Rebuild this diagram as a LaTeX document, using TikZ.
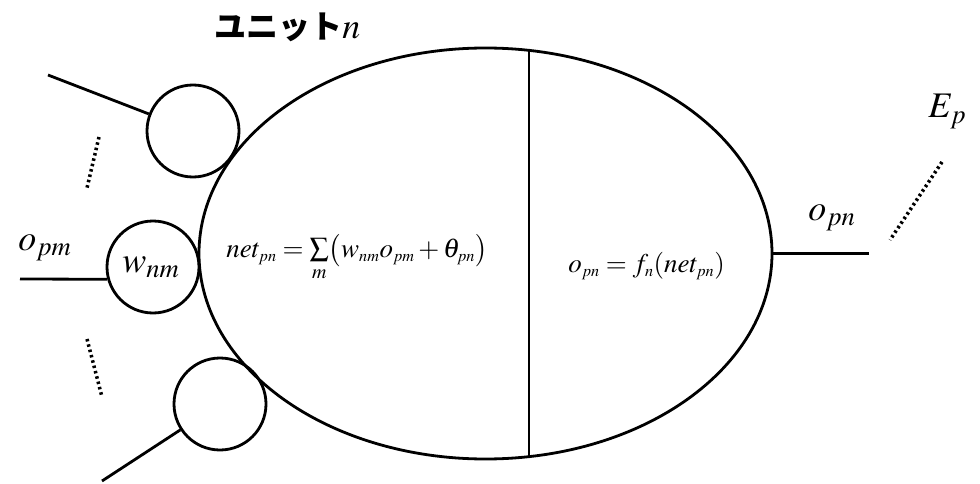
\documentclass[tikz,border=0pt]{standalone}
\usepackage{mathptmx}
\usepackage{fontspec}
\setmainfont{Liberation Serif}
\newfontfamily\jpfont{Noto Sans CJK JP}
\usetikzlibrary{shapes.geometric}
\begin{document}
\begin{tikzpicture}[x=1pt,y=-1pt,line width=2.8pt,
  unit/.style={circle,draw,minimum size=92pt,inner sep=0pt},
  body/.style={ellipse,draw,minimum width=573pt,minimum height=411pt,inner sep=0pt},
  dotline/.style={line width=3.5pt,dash pattern=on 2.5pt off 3pt},
  big/.style={inner sep=0pt,anchor=base west,font=\fontsize{36}{40}\selectfont},
  formula/.style={inner sep=0pt,anchor=base west,font=\fontsize{27}{30}\selectfont}]
\useasboundingbox (0,0) rectangle (980,484);

% main body
\node[body] (E) at (485.5,253.5) {};
\draw (E.78.2) -- (E.-78.2);

% weight circles
\node[unit] (c1) at (193,131) {};
\node[unit] (c2) at (153,267) {};
\node[unit] (c3) at (220,404) {};

% inputs
\coordinate (a1) at (48,75);
\coordinate (a2) at (20,279);
\coordinate (a3) at (102,481);
\draw (a1) -- (c1);
\draw (a2) -- (c2.195);
\draw (a3) -- (c3);

% output
\coordinate (out) at (869,255);
\draw (E.-0.4) -- (out |- E.-0.4);

% dotted marks
\coordinate (d1a) at (99,137); \coordinate (d1b) at (87,188);
\coordinate (d2a) at (87,339); \coordinate (d2b) at (102,397);
\coordinate (d3a) at (942,162); \coordinate (d3b) at (890,240);
\draw[dotline] (d1a) -- (d1b);
\draw[dotline] (d2a) -- (d2b);
\draw[dotline] (d3a) -- (d3b);

% labels
\node[inner sep=0pt,anchor=base west] (title) at (213,39)
  {{\jpfont\bfseries\fontsize{32}{38}\selectfont ユニット}{\fontsize{36}{40}\selectfont$n$}};
\node[big] (opm) at (17,250) {$o_{pm}$};
\node[big] (wnm) at (121,272) {$w_{nm}$};
\node[big] (opn) at (807,220) {$o_{pn}$};
\node[big] (Ep) at (927,118) {$E_p$};
\node[formula] (f1) at (225,257)
  {$net_{\scriptscriptstyle pn}=\sum\limits_{m}\bigl(w_{\scriptscriptstyle nm}o_{\scriptscriptstyle pm}+\theta_{\scriptscriptstyle pn}\bigr)$};
\node[formula] (f2) at (567,272)
  {$o_{\scriptscriptstyle pn}=f_{\scriptscriptstyle n}(net_{\scriptscriptstyle pn})$};
\end{tikzpicture}
\end{document}
